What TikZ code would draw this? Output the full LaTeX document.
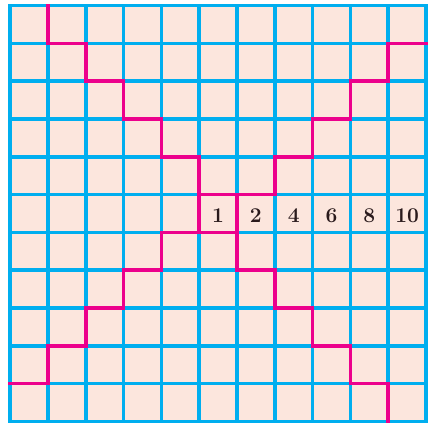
\documentclass[tikz,border=0pt]{standalone}
\begin{document}
\begin{tikzpicture}[x=1pt,y=-1pt]
\definecolor{gridblue}{HTML}{00AEEF}
\definecolor{cellfill}{HTML}{FCE6DD}
\definecolor{pathpink}{HTML}{EC008C}
\definecolor{numtext}{HTML}{2A1A1C}
\tikzset{
  gridline/.style={draw=gridblue,line width=3.6pt,line cap=rect},
  pinkline/.style={draw=pathpink,line width=3.6pt,line join=miter,line cap=rect},
  numlabel/.style={text=numtext,font=\fontsize{21}{21}\selectfont\bfseries,inner sep=0pt}
}
\useasboundingbox (0,0) rectangle (430,424);
\fill[white] (0,0) rectangle (430,424);
\begin{scope}[shift={(10.2,5.5)},x=37.8pt,y=-37.8pt]
  \fill[cellfill] (0,0) rectangle (11,11);
  \foreach \i in {0,...,11} {
    \draw[gridline] (\i,0) -- (\i,11);
    \draw[gridline] (0,\i) -- (11,\i);
  }
  % magenta staircases
  \draw[pinkline] (1,0) -- (1,1) -- (2,1) -- (2,2) -- (3,2) -- (3,3) -- (4,3) -- (4,4) -- (5,4) -- (5,6);
  \draw[pinkline] (0,10) -- (1,10) -- (1,9) -- (2,9) -- (2,8) -- (3,8) -- (3,7) -- (4,7) -- (4,6) -- (6,6);
  \draw[pinkline] (11,1) -- (10,1) -- (10,2) -- (9,2) -- (9,3) -- (8,3) -- (8,4) -- (7,4) -- (7,5) -- (5,5);
  \draw[pinkline] (6,5) -- (6,7) -- (7,7) -- (7,8) -- (8,8) -- (8,9) -- (9,9) -- (9,10) -- (10,10) -- (10,11);
  % numbers
  \node[numlabel] (n1) at (5.5,5.55) {1};
  \node[numlabel] (n2) at (6.5,5.55) {2};
  \node[numlabel] (n4) at (7.5,5.55) {4};
  \node[numlabel] (n6) at (8.5,5.55) {6};
  \node[numlabel] (n8) at (9.5,5.55) {8};
  \node[numlabel] (n10) at (10.5,5.55) {10};
\end{scope}
\end{tikzpicture}
\end{document}
